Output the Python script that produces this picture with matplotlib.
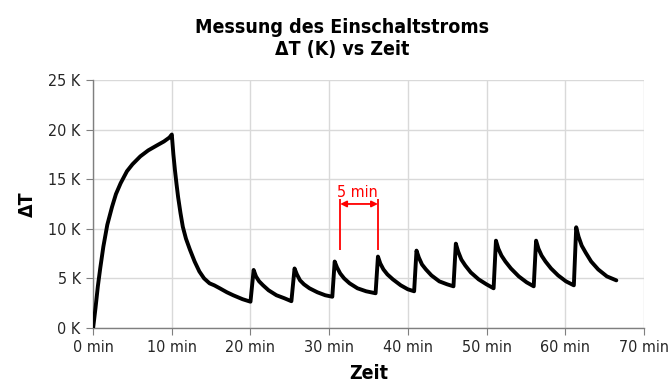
import matplotlib
matplotlib.use("Agg")
import matplotlib.pyplot as plt
from matplotlib import font_manager

# narrow Helvetica-like face if available, otherwise condensed DejaVu
names = {f.name for f in font_manager.fontManager.ttflist}
if "Liberation Sans Narrow" in names:
    plt.rcParams["font.family"] = ["Liberation Sans Narrow", "DejaVu Sans"]
    stretch = "normal"
else:
    plt.rcParams["font.family"] = ["DejaVu Sans"]
    stretch = "condensed"

# Messwerte: Zeit in min, Temperaturerhöhung in K
zeit = [0.0, 0.3, 0.6, 0.9, 1.3, 1.8, 2.4, 2.9, 3.5, 4.3, 5.0, 6.0, 7.0, 8.1, 9.0, 9.7, 10.0,
        10.2, 10.4, 10.6, 10.8, 11.1, 11.4, 11.8, 12.3, 12.9, 13.5, 14.1, 14.8, 15.4,
        16.1, 17.0, 17.8, 19.0, 20.0,
        20.4, 20.7, 21.1, 21.6, 22.3, 23.3, 24.3, 25.2,
        25.6, 25.9, 26.3, 26.8, 27.5, 28.5, 29.5, 30.4,
        30.7, 31.0, 31.4, 31.9, 32.6, 33.6, 34.7, 35.9,
        36.2, 36.5, 36.9, 37.4, 38.1, 39.1, 40.0, 40.8,
        41.1, 41.4, 41.8, 42.3, 43.0, 44.0, 45.0, 45.8,
        46.1, 46.4, 46.8, 47.3, 48.0, 49.0, 50.0, 50.9,
        51.2, 51.5, 51.9, 52.4, 53.1, 54.1, 55.1, 56.0,
        56.3, 56.6, 57.0, 57.5, 58.2, 59.1, 60.1, 61.1,
        61.4, 61.7, 62.1, 62.6, 63.3, 64.2, 65.3, 66.5]
delta_t = [0.0, 2.0, 4.2, 6.0, 8.2, 10.4, 12.2, 13.5, 14.6, 15.8, 16.5, 17.3, 17.9, 18.4, 18.8, 19.2, 19.5,
           17.5, 15.9, 14.5, 13.2, 11.6, 10.2, 9.0, 7.9, 6.7, 5.7, 5.0, 4.5, 4.3,
           4.0, 3.6, 3.3, 2.9, 2.65,
           5.85, 5.2, 4.7, 4.3, 3.8, 3.3, 3.0, 2.7,
           6.0, 5.4, 4.8, 4.4, 4.0, 3.6, 3.3, 3.15,
           6.7, 6.1, 5.5, 5.0, 4.5, 4.0, 3.7, 3.5,
           7.2, 6.5, 5.9, 5.4, 4.9, 4.3, 3.9, 3.7,
           7.8, 7.1, 6.4, 5.9, 5.3, 4.7, 4.4, 4.2,
           8.5, 7.7, 6.9, 6.3, 5.6, 4.9, 4.4, 4.0,
           8.8, 8.0, 7.3, 6.7, 6.0, 5.2, 4.6, 4.2,
           8.8, 8.0, 7.3, 6.7, 6.0, 5.3, 4.7, 4.3,
           10.15, 9.2, 8.3, 7.6, 6.7, 5.9, 5.2, 4.8]

x_ticks = [0, 10, 20, 30, 40, 50, 60, 70]
y_ticks = [0, 5, 10, 15, 20, 25]

# Markierung des Pulsabstands
puls_a, puls_b = 31.4, 36.2
puls_unten, puls_oben, pfeil_y = 7.9, 13.0, 12.5

fig = plt.figure(figsize=(6.7, 3.9), dpi=100)
ax = fig.add_axes([0.139, 0.159, 0.822, 0.636])

ax.plot(zeit, delta_t, color="black", lw=2.8, solid_joinstyle="round",
        solid_capstyle="round", zorder=3)

red = "#ff0000"
ax.vlines([puls_a, puls_b], puls_unten, puls_oben, color=red, lw=1.3, zorder=4)
ax.annotate("", xy=(puls_a, pfeil_y), xytext=(puls_b, pfeil_y),
            arrowprops=dict(arrowstyle="<|-|>", color=red, lw=1.3,
                            mutation_scale=9, shrinkA=0, shrinkB=0), zorder=4)
ax.text((puls_a + puls_b) / 2 - 0.2, pfeil_y + 0.45, "5 min", color=red,
        fontsize=11.5, fontstretch=stretch, ha="center", va="bottom")

ax.set_xlim(0, 70)
ax.set_ylim(0, 25)
ax.set_xticks(x_ticks)
ax.set_xticklabels([f"{t} min" for t in x_ticks])
ax.set_yticks(y_ticks)
ax.set_yticklabels([f"{v} K" for v in y_ticks])
for lab in ax.get_xticklabels() + ax.get_yticklabels():
    lab.set_fontstretch(stretch)

ax.grid(True, color="#d9d9d9", lw=1.0, zorder=0)
ax.set_axisbelow(True)
for s in ["top", "right"]:
    ax.spines[s].set_visible(False)
for s in ["left", "bottom"]:
    ax.spines[s].set_color("#7f7f7f")
    ax.spines[s].set_linewidth(1.0)
ax.tick_params(direction="out", length=5, color="#7f7f7f", labelsize=11.5,
               labelcolor="#262626", pad=4)

ax.set_xlabel("Zeit", fontsize=14, fontweight="bold", fontstretch=stretch, labelpad=6)
ax.set_ylabel("ΔT", fontsize=14, fontweight="bold", fontstretch=stretch, labelpad=8)

fig.text(0.51, 0.955, "Messung des Einschaltstroms\nΔT (K) vs Zeit", ha="center", va="top",
         fontsize=14, fontweight="bold", fontstretch=stretch, linespacing=1.2)

fig.savefig("out.png", dpi=100)
